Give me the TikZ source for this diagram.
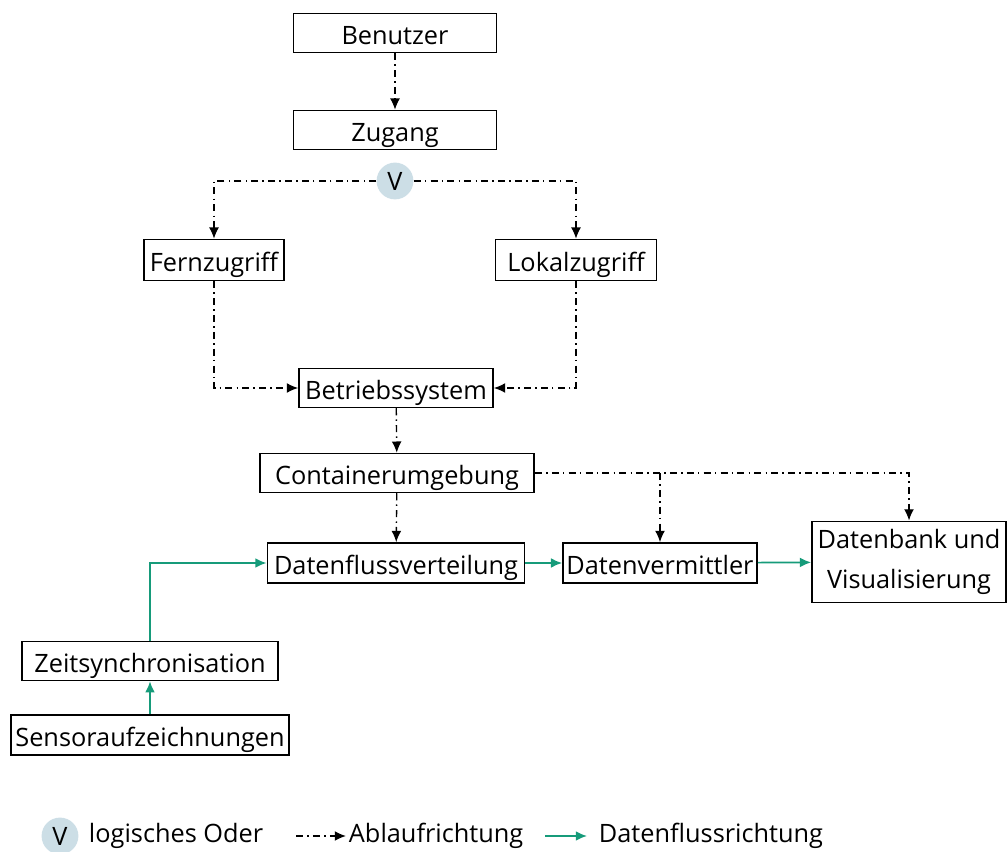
\documentclass[tikz,border=0pt]{standalone}
\usepackage{fontspec}
\setmainfont{Open Sans}
\usetikzlibrary{arrows.meta}

\definecolor{flussgruen}{RGB}{22,155,122}
\definecolor{oderblau}{RGB}{204,222,230}

\begin{document}
\begin{tikzpicture}[x=0.025cm, y=-0.025cm,
  every node/.style={font=\fontsize{18}{22}\selectfont},
  block/.style={draw, line width=1.2pt, minimum height=0.97cm, inner sep=2pt,
    text height=16pt, text depth=0pt},
  ablauf/.style={line width=1pt, dash pattern=on 5pt off 3pt on 1pt off 3pt,
    -{Latex[length=8pt,width=7pt]}},
  fluss/.style={flussgruen, line width=1.2pt, -{Latex[length=8pt,width=7pt]}},
  oder/.style={circle, fill=oderblau, minimum size=0.92cm, inner sep=0pt}]
  \useasboundingbox (0,0) rectangle (1008,852);

  % Zugriffskette
  \node[block, minimum width=5.08cm] (benutzer) at (395,33) {Benutzer};
  \node[block, minimum width=5.08cm] (zugang) at (395,130) {Zugang};
  \node[oder] (oder) at (395,181) {V};
  \node[block, minimum width=3.5cm, minimum height=1.02cm] (fern) at (214,260) {Fernzugriff};
  \node[block, minimum width=4.03cm, minimum height=1.02cm] (lokal) at (576,260) {Lokalzugriff};
  \node[block, minimum width=4.85cm] (betrieb) at (396,388) {Betriebssystem};
  \node[block, minimum width=6.85cm] (container) at (397,473) {Containerumgebung};

  % Datenfluss
  \node[block, minimum width=6.43cm, minimum height=1cm] (verteilung) at (396,563) {Datenflussverteilung};
  \node[block, minimum width=4.85cm, minimum height=1cm] (vermittler) at (660,563) {Datenvermittler};
  \node[block, minimum width=4.85cm, minimum height=2.03cm, align=center,
    text height=, text depth=, font=\fontsize{18}{28}\selectfont] (datenbank) at (909,562) {Datenbank und\\Visualisierung};
  \node[block, minimum width=6.4cm] (zeit) at (150,661) {Zeitsynchronisation};
  \node[block, minimum width=6.95cm, minimum height=1cm] (sensor) at (150,735) {Sensoraufzeichnungen};

  \draw[ablauf] (benutzer) -- (zugang);
  \draw[ablauf] (oder) -| (fern);
  \draw[ablauf] (oder) -| (lokal);
  \draw[ablauf] (fern) |- (betrieb);
  \draw[ablauf] (lokal) |- (betrieb);
  \draw[ablauf] (betrieb) -- (container);
  \draw[ablauf] (container) -- (verteilung);
  \draw[ablauf] (container) -| (datenbank);
  \draw[ablauf] (container.east -| vermittler.north) -- (vermittler);

  \draw[fluss] (verteilung) -- (vermittler);
  \draw[fluss] (vermittler) -- (datenbank);
  \draw[fluss] (sensor) -- (zeit);
  \draw[fluss] (zeit) |- (verteilung);

  % Legende
  \node[oder] (legoder) at (60,836) {V};
  \node[anchor=west] (legodertext) at (84,836) {logisches Oder};
  \coordinate (ablaufa) at (296,836);
  \coordinate (ablaufb) at (346,836);
  \draw[ablauf] (ablaufa) -- (ablaufb);
  \node[anchor=west] (legablauf) at (344,836) {Ablaufrichtung};
  \coordinate (flussa) at (545,836);
  \coordinate (flussb) at (587,836);
  \draw[fluss] (flussa) -- (flussb);
  \node[anchor=west] (legfluss) at (594,836) {Datenflussrichtung};
\end{tikzpicture}
\end{document}
